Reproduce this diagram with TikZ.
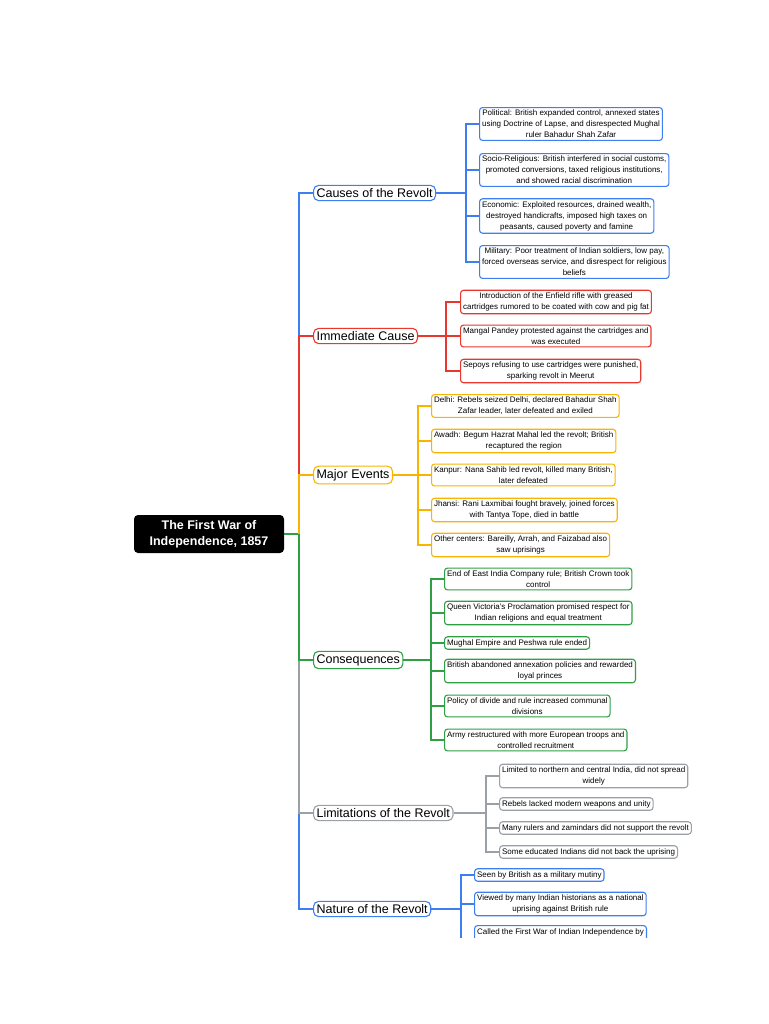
\documentclass[tikz,border=0pt]{standalone}
\usepackage{fontspec}
\setmainfont{Liberation Sans}
\definecolor{cblue}{HTML}{3D7FF0}
\definecolor{cred}{HTML}{E8372C}
\definecolor{corange}{HTML}{F7B500}
\definecolor{cgreen}{HTML}{2EA043}
\definecolor{cgray}{HTML}{9AA0A6}
\tikzset{
  leaf/.style={draw=#1, line width=1.1pt, rounded corners=3pt, anchor=west, align=center,
    inner sep=2.5pt, font=\fontsize{8}{11}\selectfont},
  branch/.style={draw=#1, line width=1.1pt, rounded corners=5pt, anchor=west,
    inner sep=3pt, font=\fontsize{12.5}{14}\selectfont},
  link/.style={draw=#1, line width=1.6pt},
}
\begin{document}
\begin{tikzpicture}[x=1pt,y=-1pt]
\useasboundingbox (0,0) rectangle (768,1024);
\begin{scope}
\clip (0,0) rectangle (768,937);

% root
\node[fill=black, text=white, rounded corners=4pt, align=center, font=\bfseries\fontsize{12.5}{16}\selectfont,
  minimum width=150, minimum height=38] (root) at (209,534) {The First War of\\Independence, 1857};
\coordinate (hub) at (299,534);
\draw[link=cgreen] (root.east) -- (hub);

% branches
\node[branch=cblue] (causes) at (313,193) {Causes of the Revolt};
\node[branch=cred] (immediate) at (313,336) {Immediate Cause};
\node[branch=corange] (events) at (313,475) {Major Events};
\node[branch=cgreen] (conseq) at (313,660) {Consequences};
\node[branch=cgray] (limits) at (313,813) {Limitations of the Revolt};
\node[branch=cblue] (nature) at (313,909) {Nature of the Revolt};

\draw[link=cblue] (hub) |- (causes.west);
\draw[link=cred] (hub) |- (immediate.west);
\draw[link=corange] (hub) |- (events.west);
\draw[link=cblue] (hub) |- (nature.west);
\draw[link=cgray] (hub) |- (limits.west);
\draw[link=cgreen] (hub) |- (conseq.west);

% causes
\node[leaf=cblue] (c1) at (479,124) {Political: British expanded control, annexed states\\using Doctrine of Lapse, and disrespected Mughal\\ruler Bahadur Shah Zafar};
\node[leaf=cblue] (c2) at (479,170) {Socio-Religious: British interfered in social customs,\\promoted conversions, taxed religious institutions,\\and showed racial discrimination};
\node[leaf=cblue] (c3) at (479,216) {Economic: Exploited resources, drained wealth,\\destroyed handicrafts, imposed high taxes on\\peasants, caused poverty and famine};
\node[leaf=cblue] (c4) at (479,262) {Military: Poor treatment of Indian soldiers, low pay,\\forced overseas service, and disrespect for religious\\beliefs};
\foreach \n in {c1,c2,c3,c4}
  \draw[link=cblue] (causes.east) -- (466,193) |- (\n.west);

% immediate cause
\node[leaf=cred] (i1) at (460,302) {Introduction of the Enfield rifle with greased\\cartridges rumored to be coated with cow and pig fat};
\node[leaf=cred] (i2) at (460,336) {Mangal Pandey protested against the cartridges and\\was executed};
\node[leaf=cred] (i3) at (460,371) {Sepoys refusing to use cartridges were punished,\\sparking revolt in Meerut};
\foreach \n in {i1,i2,i3}
  \draw[link=cred] (immediate.east) -- (446,336) |- (\n.west);

% major events
\node[leaf=corange] (e1) at (431,406) {Delhi: Rebels seized Delhi, declared Bahadur Shah\\Zafar leader, later defeated and exiled};
\node[leaf=corange] (e2) at (431,441) {Awadh: Begum Hazrat Mahal led the revolt; British\\recaptured the region};
\node[leaf=corange] (e3) at (431,475) {Kanpur: Nana Sahib led revolt, killed many British,\\later defeated};
\node[leaf=corange] (e4) at (431,510) {Jhansi: Rani Laxmibai fought bravely, joined forces\\with Tantya Tope, died in battle};
\node[leaf=corange] (e5) at (431,545) {Other centers: Bareilly, Arrah, and Faizabad also\\saw uprisings};
\foreach \n in {e1,e2,e3,e4,e5}
  \draw[link=corange] (events.east) -- (418,475) |- (\n.west);

% consequences
\node[leaf=cgreen] (q1) at (444,579) {End of East India Company rule; British Crown took\\control};
\node[leaf=cgreen] (q2) at (444,613) {Queen Victoria's Proclamation promised respect for\\Indian religions and equal treatment};
\node[leaf=cgreen] (q3) at (444,643) {Mughal Empire and Peshwa rule ended};
\node[leaf=cgreen] (q4) at (444,671) {British abandoned annexation policies and rewarded\\loyal princes};
\node[leaf=cgreen] (q5) at (444,706) {Policy of divide and rule increased communal\\divisions};
\node[leaf=cgreen] (q6) at (444,740) {Army restructured with more European troops and\\controlled recruitment};
\foreach \n in {q1,q2,q3,q4,q5,q6}
  \draw[link=cgreen] (conseq.east) -- (431,660) |- (\n.west);

% limitations
\node[leaf=cgray] (l1) at (499,776) {Limited to northern and central India, did not spread\\widely};
\node[leaf=cgray] (l2) at (499,804) {Rebels lacked modern weapons and unity};
\node[leaf=cgray] (l3) at (499,828) {Many rulers and zamindars did not support the revolt};
\node[leaf=cgray] (l4) at (499,852) {Some educated Indians did not back the uprising};
\foreach \n in {l1,l2,l3,l4}
  \draw[link=cgray] (limits.east) -- (486,813) |- (\n.west);

% nature
\node[leaf=cblue] (n1) at (474,875) {Seen by British as a military mutiny};
\node[leaf=cblue] (n2) at (474,904) {Viewed by many Indian historians as a national\\uprising against British rule};
\node[leaf=cblue, anchor=north west, minimum height=30, text depth=18pt] (n3) at (474,925) {Called the First War of Indian Independence by};
\foreach \n in {n1,n2}
  \draw[link=cblue] (nature.east) -- (461,909) |- (\n.west);
\draw[link=cblue] (nature.east) -- (461,909) |- (n3.west);
\end{scope}
\end{tikzpicture}
\end{document}
